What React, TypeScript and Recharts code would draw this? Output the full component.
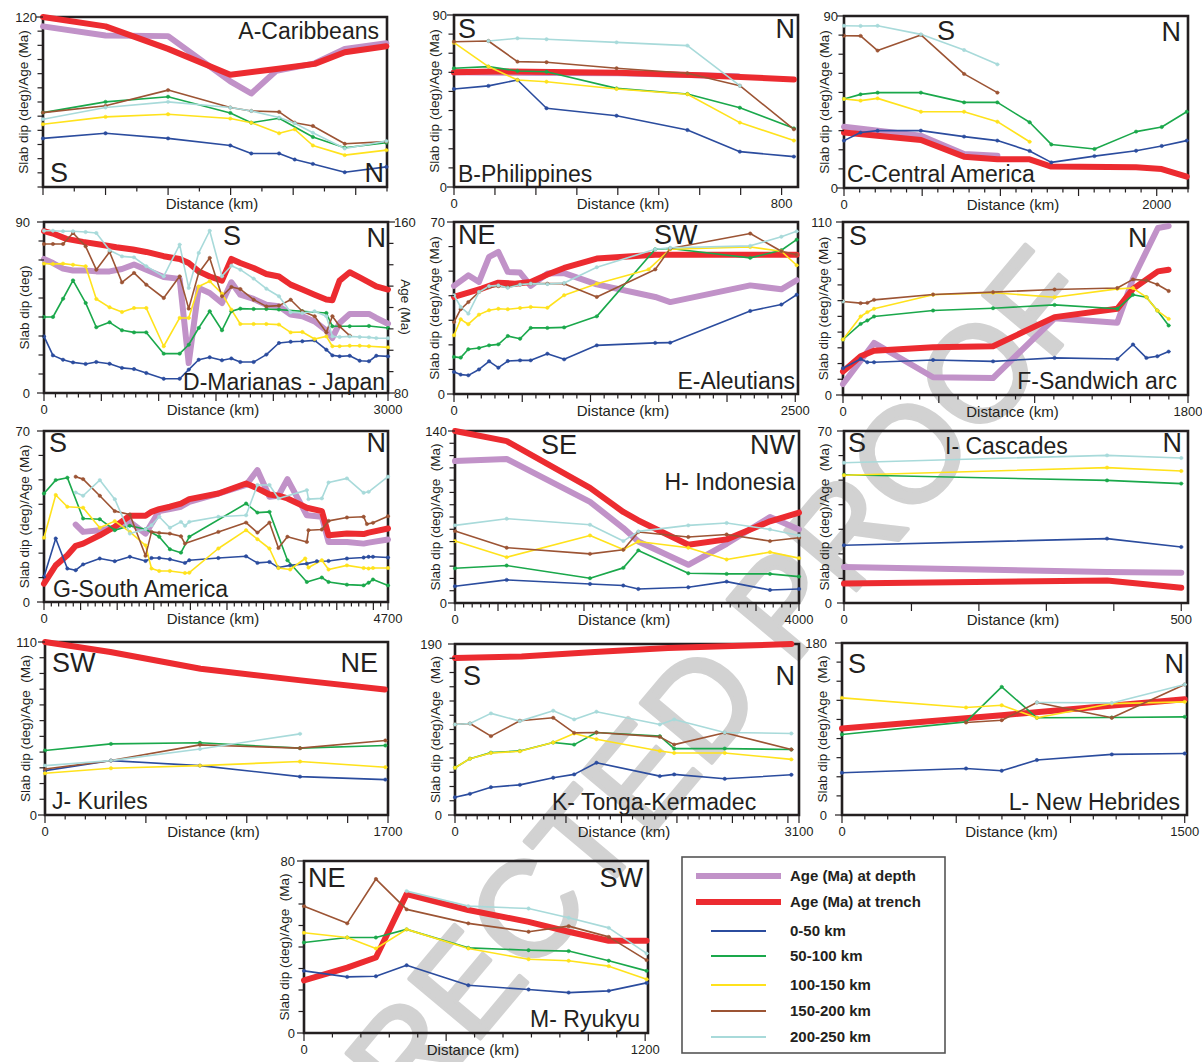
import React from 'react';
import { LineChart, Line, XAxis, YAxis, ReferenceArea } from 'recharts';

type P = [number, number][];

// ---------------- series meta ----------------
const SERIES_KEYS = ['depth', 'trench', 'd0', 'd1', 'd2', 'd3', 'd4'];
const SERIES_NAMES = ['Age (Ma) at depth', 'Age (Ma) at trench', '0-50 km', '50-100 km', '100-150 km', '150-200 km', '200-250 km'];
const SERIES_COLORS = ['#c192c8', '#ec2b30', '#2b4c9e', '#1aa84b', '#ffe21c', '#9c5434', '#a8dada'];
const SERIES_WIDTHS = [6, 6, 1.6, 1.6, 1.6, 1.6, 1.6];

// ---------------- A - Caribbeans ----------------
const A_depth: P = [[0,113.4],[200,107],[400,106.5],[599,74.6],[666,66],[746,82],[869,87.3],[965,97.5],[1098,101.5]];
const A_trench: P = [[0,120],[200,113.4],[400,97.5],[599,79.3],[746,83.3],[869,86.9],[965,95.1],[1098,99.4]];
const A_d0: P = [[0,34.3],[200,37.9],[400,34.3],[599,29.3],[666,23.7],[755,23.7],[805,19.4],[863,16.3],[965,10.4],[1098,14.2]];
const A_d1: P = [[0,52.5],[200,60.1],[400,63.7],[599,52.3],[666,45.4],[755,48.5],[863,35.3],[965,27.7],[1098,31.2]];
const A_d2: P = [[0,44.3],[200,49.5],[400,51.4],[599,48.3],[666,45.4],[755,37.9],[805,40.7],[863,29.3],[965,22.5],[1098,26]];
const A_d3: P = [[0,52.5],[200,57.3],[400,68.4],[599,56.1],[666,53.7],[755,53],[805,45.4],[863,43.1],[965,30.5],[1098,32]];
const A_d4: P = [[0,47.8],[200,56.1],[400,60.1],[599,56.1],[666,53.7],[755,49],[805,45],[863,38.3],[965,27.2],[1098,32.4]];

// ---------------- B - Philippines ----------------
const B_depth: P = [[0,60],[400,59.5],[694,58]];
const B_trench: P = [[0,60],[100,60.5],[400,59.8],[600,58.5],[830,56.3]];
const B_d0: P = [[0,51.3],[84,52.9],[155,56],[226,41.2],[397,37.3],[570,29.8],[698,18.5],[830,15.9]];
const B_d1: P = [[0,62.1],[84,63],[155,60.7],[226,60.3],[397,51.6],[570,48.7],[698,41.5],[830,30.7]];
const B_d2: P = [[0,75.5],[84,63],[155,56],[226,55.1],[397,51.3],[570,48.5],[698,33.7],[830,24.3]];
const B_d3: P = [[0,76],[84,76.4],[155,65.6],[226,65.3],[397,62.1],[570,59.5],[698,53],[830,30.2]];
const B_d4: P = [[84,76.4],[155,77.8],[226,77.3],[397,75.7],[570,74],[698,53]];

// ---------------- C - Central America ----------------
const C_depth: P = [[0,32.1],[492,27.4],[768,17.8],[981,16.9]];
const C_trench: P = [[0,29],[492,25.1],[768,16.4],[981,15],[1187,15],[1326,11.2],[1868,10.8],[2032,9.9],[2192,5.9]];
const C_d0: P = [[0,24.8],[106,29],[215,30],[492,30],[768,26.9],[981,24.8],[1187,19.4],[1326,13.4],[1602,16.7],[1868,19.5],[2032,22],[2192,24.8]];
const C_d1: P = [[0,46.6],[106,49],[215,49.9],[492,49.9],[768,44.8],[981,44.8],[1187,34.4],[1326,22.8],[1602,20.4],[1868,29.5],[2032,31.9],[2192,39.9]];
const C_d2: P = [[0,46.6],[106,45.7],[215,46.9],[492,39.9],[768,39.9],[981,34.7],[1187,24.2]];
const C_d3: P = [[0,79.7],[106,79.6],[215,71.9],[492,80.1],[768,59.7],[981,49.9]];
const C_d4: P = [[0,84.9],[106,84.8],[215,84.9],[492,80.4],[768,72.2],[981,64.7]];

// ---------------- D - Marianas - Japan (ages on right axis) ----------------
const D_depth: P = [[0,142.7],[78,140.8],[166,138.2],[253,137.3],[363,137.3],[456,136.9],[572,136.9],[680,138],[785,140.1],[892,137.7],[1044,134.3],[1183,133.4],[1262,94],[1349,129.1],[1445,126.8],[1552,122.1],[1634,131.8],[1712,126],[1828,124],[1939,121.3],[2049,120.6],[2151,116.7],[2253,115.9],[2360,113.5],[2462,109.3],[2515,105.7],[2578,112.8],[2666,117],[2834,117],[2898,115.1],[3000,112.4]];
const D_trench: P = [[0,155.7],[78,154.6],[195,152.1],[340,150.7],[485,149.5],[631,148.2],[776,147.1],[892,146],[1044,144],[1183,142.7],[1262,140.8],[1349,136.9],[1445,134.5],[1552,132.6],[1634,142.7],[1712,140.8],[1828,138.5],[1939,135.7],[2049,134.5],[2151,130.7],[2253,128.4],[2360,126],[2462,123.7],[2515,123.4],[2578,132.6],[2666,136.5],[2753,134.1],[2834,131.8],[2898,129.9],[3000,128.4]];
const D_d0: P = [[0,29.8],[78,19.8],[166,17.5],[253,16.1],[363,15.3],[456,16.3],[572,15.4],[680,13.2],[785,12.6],[892,10.5],[1044,7.5],[1183,7.5],[1262,12.3],[1349,17.5],[1445,18.8],[1552,17.2],[1634,18.2],[1712,16.3],[1828,16.3],[1939,20.2],[2049,26.3],[2151,27],[2253,27.2],[2360,27.7],[2462,22.8],[2515,19.8],[2578,19.3],[2666,19.6],[2753,17],[2834,16.7],[2898,19.6],[3000,19.3]];
const D_d1: P = [[0,40],[78,40],[166,49.6],[253,59.3],[363,47.4],[456,34.6],[572,37.2],[680,33],[785,31.9],[892,31.9],[1044,20.7],[1183,20.7],[1262,25.4],[1349,34.2],[1445,43],[1552,33],[1634,43],[1712,44.4],[1828,44.2],[1939,44.2],[2049,43.9],[2253,43],[2462,42.1],[2515,35.1],[2666,35.1],[2834,35.3],[3000,34.2]];
const D_d2: P = [[0,68.1],[78,67.9],[166,68.1],[253,67.5],[363,66.7],[456,49.5],[572,45.1],[680,42.6],[785,44.7],[892,44.7],[1044,24.6],[1183,39.5],[1262,39.5],[1349,56.1],[1445,58.8],[1552,52.3],[1634,43.9],[1712,36.3],[1828,36.3],[1939,36.3],[2049,36],[2151,31.9],[2253,32.1],[2360,28.4],[2462,29.8],[2515,24.6],[2578,24.6],[2666,24.9],[2753,24.9],[2834,24.6],[3000,24]];
const D_d3: P = [[0,78.4],[78,78.4],[166,78.4],[253,84.2],[363,77.2],[456,64.9],[572,74.2],[680,58.2],[785,63.2],[892,57],[1044,50],[1183,61.4],[1262,44.4],[1349,63.2],[1445,71.1],[1552,50.9],[1634,55.8],[1712,54.7],[1828,49.1],[1939,45.6],[2049,46],[2151,49.1],[2253,43],[2360,40.4],[2462,31.9],[2515,40.4],[2578,35.1],[2666,30.2]];
const D_d4: P = [[0,85.4],[78,85.4],[166,85.1],[253,85.1],[363,84.7],[456,84.2],[572,75.1],[680,71.9],[785,71.4],[892,66.7],[1044,61.4],[1183,78.1],[1262,55.3],[1349,73.7],[1445,85.4],[1552,61.4],[1634,67],[1712,64.9],[1828,60.2],[1939,54.9],[2049,50.9],[2151,42.5],[2253,42.1],[2360,43],[2462,40.4],[2515,29.8],[2578,29.5],[2666,29.8],[2753,29.5],[2834,29.3],[2898,28.9],[3000,28.8]];

// ---------------- E - Aleutians ----------------
const E_depth: P = [[0,44],[105,48.3],[183,45.6],[257,55.8],[325,57.8],[394,49.7],[484,49.4],[562,44],[684,49],[807,49.2],[1046,44.6],[1474,39.5],[1584,37.4],[2170,44.2],[2398,42.6],[2510,46.3]];
const E_trench: P = [[0,39.5],[203,42.9],[325,45.3],[447,44.9],[562,45.6],[684,48.6],[807,51.3],[1046,55.1],[1474,56.7],[2398,56.7],[2510,56.7]];
const E_d0: P = [[0,9],[49,7.9],[105,7.6],[183,10],[257,13.3],[325,10.7],[394,13.4],[484,13.7],[562,13.7],[684,16.4],[807,14.1],[1046,19.8],[1474,20.8],[1584,20.9],[2170,33.8],[2398,36.4],[2510,40.4]];
const E_d1: P = [[0,15.1],[49,14.8],[105,18.2],[183,18.7],[257,19.8],[325,20.2],[394,23.6],[484,22.5],[562,26.9],[684,26.9],[807,27.1],[1046,31.6],[1474,58.9],[1584,59.2],[2170,55.4],[2398,58.5],[2510,62.8]];
const E_d2: P = [[0,23.9],[49,30.4],[105,28.4],[183,32.3],[257,34.1],[325,34.7],[394,34.5],[484,35],[562,35.4],[684,35.1],[807,40.2],[1046,44.9],[1425,50.7],[1584,58.9],[2170,59.8],[2398,58.1],[2510,52.4]];
const E_d3: P = [[0,29.3],[49,34.5],[105,37.4],[183,41.5],[257,43.5],[325,43.9],[394,43.5],[484,44.5],[562,44.9],[684,44.9],[807,44.9],[1046,39.5],[1474,50.7],[1584,59.2],[2170,65.3],[2398,58.1],[2510,56.7]];
const E_d4: P = [[0,40.2],[49,35.4],[105,32.7],[183,41.5],[257,43.9],[325,44.2],[394,43.2],[484,44.5],[562,44.9],[684,44.7],[807,45.2],[1046,51.6],[1474,58.9],[1584,59.5],[2170,60.3],[2398,64],[2510,66.2]];

// ---------------- F - Sandwich arc ----------------
const F_depth: P = [[0,7],[162,33.1],[470,11.3],[783,10.8],[1104,48.8],[1431,45.9],[1513,73.9],[1643,106.2],[1699,107.5]];
const F_trench: P = [[0,14.9],[92,24.6],[162,28.2],[470,30.4],[783,31],[1104,49.5],[1431,54.8],[1513,67.5],[1643,78.6],[1699,79.6]];
const F_d0: P = [[0,17],[92,22.9],[127,20.8],[162,20.8],[470,22.3],[783,21.4],[1104,23.6],[1431,22.9],[1513,32.1],[1583,23.6],[1640,24.6],[1699,27.6]];
const F_d1: P = [[0,35.3],[92,45.2],[127,47.4],[162,49.9],[470,53.7],[783,55.2],[1104,57.3],[1431,54.8],[1513,63.7],[1583,62.2],[1640,53.7],[1699,44.2]];
const F_d2: P = [[0,35.3],[92,49.9],[127,52.7],[162,54.8],[470,63.7],[783,65],[1104,62.2],[1431,67.5],[1513,68],[1583,62.2],[1640,53.7],[1699,48.4]];
const F_d3: P = [[0,59.5],[92,58.4],[127,58.6],[162,60.5],[470,63.9],[783,65.4],[1104,67.1],[1431,68],[1513,73.5],[1583,72.8],[1640,70.3],[1699,66.1]];
const F_d4: P = [[0,59.5]];

// ---------------- G - South America ----------------
const G_depth: P = [[433,31.7],[534,28.7],[762,29.4],[967,30.4],[1173,32.8],[1387,28],[1574,37.2],[1720,38],[1871,39],[1985,41],[2382,44.4],[2761,47.9],[2916,54],[3080,43.1],[3203,43.5],[3326,50.3],[3591,35.5],[3796,34.9],[3888,24.6],[4139,24.6],[4367,23.9],[4435,24.3],[4700,25.6]];
const G_trench: P = [[0,7.5],[160,15],[319,19.1],[433,23],[534,23.9],[762,27.3],[967,30.8],[1173,35.3],[1387,35.3],[1469,36.9],[1574,38],[1720,39],[1871,40.3],[1985,42.1],[2382,44.4],[2761,48.5],[2916,46.5],[3080,44],[3203,43.5],[3326,42.4],[3591,38.6],[3796,37.2],[3888,27.3],[4139,28],[4367,27.8],[4435,28.4],[4700,30.1]];
const G_d0: P = [[0,10.3],[160,26],[319,13.7],[433,13],[534,15.4],[762,17.8],[967,16.7],[1173,18.5],[1387,16.8],[1469,18],[1574,18],[1720,17.5],[1926,16],[1985,17.1],[2382,18],[2761,18.7],[2916,16],[3080,16.4],[3203,14.1],[3363,15],[3591,15.7],[3728,16.7],[3888,16.8],[4139,17.8],[4367,18.2],[4435,18.5],[4495,18.5],[4700,18.2]];
const G_d1: P = [[0,44.4],[160,49.9],[319,50.9],[534,34.2],[762,33.9],[967,29.4],[1173,31.2],[1387,29.8],[1574,26.7],[1720,21.6],[1871,20.2],[1985,26.7],[2761,40.3],[2916,36.6],[3080,36.9],[3326,17.1],[3591,8.2],[3796,10],[3888,8.2],[4139,7.1],[4367,6.8],[4435,7.9],[4495,9.2],[4700,6.8]];
const G_d2: P = [[0,26.3],[160,43.8],[319,39],[534,38.6],[762,30.4],[967,33.1],[1173,28.7],[1387,23.2],[1469,13.7],[1574,12.7],[1720,12.7],[1926,11.9],[1985,12],[2382,21.9],[2761,29.4],[2916,25.7],[3080,21.9],[3203,13.9],[3363,13.3],[3568,17.8],[3614,14.1],[3796,17.1],[3888,13.3],[4139,15],[4367,13.9],[4435,13.7],[4495,13.9],[4700,13.9]];
const G_d3: P = [[433,51.3],[534,50.3],[762,43.5],[967,37.2],[1173,35.8],[1387,18.9],[1469,28.7],[1574,28.3],[1720,28],[1871,26.9],[1926,23.9],[2382,28.7],[2761,32.5],[2916,28.4],[3080,32.5],[3203,22.1],[3326,26.7],[3591,24.6],[3614,29.4],[3796,29.7],[3888,33.2],[4139,34.6],[4367,34.9],[4412,31.9],[4495,32.4],[4700,35.1]];
const G_d4: P = [[433,44.8],[534,43.5],[762,49.9],[967,42.1],[1173,28],[1387,29.8],[1469,31.4],[1574,34.9],[1720,30.4],[1871,32.8],[1926,31.2],[1985,32.8],[2382,34.9],[2761,35.5],[2916,47.9],[3080,47.9],[3203,42.4],[3591,45.8],[3614,42.1],[3796,42.4],[3888,48.9],[4139,50.6],[4367,44.7],[4435,45.1],[4700,51.3]];

// ---------------- H - Indonesia ----------------
const H_depth: P = [[0,115.5],[601,117.2],[1570,82.3],[1957,61],[2132,50.1],[2713,31.1],[3159,48.2],[3663,70],[4000,59.9]];
const H_trench: P = [[0,140],[601,131.8],[1570,93.7],[1957,74.1],[2132,67.2],[2713,47.4],[3159,51.8],[3663,66.5],[4000,73.6]];
const H_d0: P = [[0,13.6],[601,18.8],[1570,15.5],[1957,14.2],[2132,11.4],[2713,12.8],[3159,17.4],[3663,10.6],[4000,11.4]];
const H_d1: P = [[0,28.3],[601,30.5],[1570,20.2],[1957,28.6],[2132,42.8],[2713,24.2],[3159,23.7],[3663,23.7],[4000,21.5]];
const H_d2: P = [[0,50.4],[601,37.3],[1570,55],[1957,43.6],[2132,50.1],[2713,45],[3159,35.4],[3663,41.4],[4000,36.5]];
const H_d3: P = [[0,58.6],[601,45],[1570,40],[1957,43.3],[2132,57.8],[2713,53.7],[3159,55.8],[3663,50.4],[4000,53.1]];
const H_d4: P = [[0,63.2],[601,68.6],[1570,63.7],[1957,50.4],[2132,58.3],[2713,63.2],[3159,65.1],[3663,59.9],[4000,55]];

// ---------------- I - Cascades ----------------
const I_depth: P = [[0,14.7],[390,12.6],[500,12.3]];
const I_trench: P = [[0,7.9],[390,9.2],[500,6.2]];
const I_d0: P = [[0,23.5],[390,26.2],[500,22.8]];
const I_d1: P = [[0,52.2],[390,49.9],[500,48.6]];
const I_d2: P = [[0,52],[390,55.1],[500,53.7]];
const I_d4: P = [[0,57.1],[390,60.1],[500,59]];

// ---------------- J - Kuriles ----------------
const J_trench: P = [[0,110],[324,103.6],[771,93],[1269,85.6],[1684,79.8]];
const J_d0: P = [[0,28.2],[327,34.6],[768,31.4],[1264,24.4],[1687,22.5]];
const J_d1: P = [[0,41],[327,45.2],[768,45.9],[1264,42.5],[1687,44.2]];
const J_d2: P = [[0,26.5],[327,29.7],[768,31.4],[1264,34],[1687,30.4]];
const J_d3: P = [[0,29.3],[327,34.6],[768,44.6],[1264,42.5],[1687,47.4]];
const J_d4: P = [[0,31.4],[327,34.6],[768,42],[1264,51.6]];

// ---------------- K - Tonga-Kermadec ----------------
const K_trench: P = [[0,174.4],[600,176.2],[1260,181.1],[1921,185.5],[3031,190]];
const K_d0: P = [[0,19.7],[135,23.5],[324,30.9],[585,33.5],[885,41.4],[1074,45.1],[1275,58.1],[1846,43.2],[1975,45.1],[2431,40.2],[3031,44.7]];
const K_d1: P = [[0,52.5],[135,62.6],[324,69.3],[585,71.2],[885,80.5],[1074,78.2],[1275,91.7],[1846,87.6],[1975,73.8],[2431,73.8],[3031,72.7]];
const K_d2: P = [[0,52.5],[135,62.6],[324,68.9],[585,70.8],[885,80.5],[1074,90.6],[1275,84.2],[1846,71.2],[1975,68.9],[2431,68.9],[3031,61.8]];
const K_d3: P = [[0,100.6],[135,101.7],[324,87.6],[585,104.7],[885,108],[1074,91.3],[1275,91.7],[1846,86.8],[1975,78.2],[2431,91.3],[3031,72.7]];
const K_d4: P = [[0,100.6],[135,101.7],[324,112.9],[585,104.3],[885,115.9],[1074,106.2],[1275,114.8],[1846,100.6],[1975,106.2],[2431,91.7],[3031,90.6]];

// ---------------- L - New Hebrides ----------------
const L_trench: P = [[0,90.5],[699,104.5],[1500,121.2]];
const L_d0: P = [[0,44.2],[543,48.7],[699,46.3],[853,57.5],[1181,63.4],[1500,64.4]];
const L_d1: P = [[0,84.3],[543,97.5],[699,134.1],[853,101.7],[1181,102],[1500,102.7]];
const L_d2: P = [[0,122.6],[543,112.5],[699,114.9],[853,101.7],[1181,116.6],[1500,118.4]];
const L_d3: P = [[543,96.8],[699,99.2],[853,117.7],[1181,101.7],[1500,136.5]];
const L_d4: P = [[853,117.7],[1181,117.3],[1500,136.5]];

// ---------------- M - Ryukyu ----------------
const M_trench: P = [[0,24.5],[152,30.4],[253,35.1],[361,64.6],[578,57.2],[790,51.7],[931,47.1],[1072,42.9],[1205,42.9]];
const M_d0: P = [[0,28.9],[152,26.1],[253,26.4],[361,31.5],[578,22.2],[790,20.2],[931,18.8],[1072,19.6],[1205,23.3]];
const M_d1: P = [[0,42.1],[152,44.4],[253,44.4],[361,48.2],[578,39.6],[790,38.5],[931,38.1],[1072,33.6],[1205,28.9]];
const M_d2: P = [[0,46.6],[152,44.4],[253,39.3],[361,48.2],[578,39.3],[790,34.3],[931,33.6],[1072,31.1],[1205,25]];
const M_d3: P = [[0,59],[152,51],[253,71.6],[361,57.5],[578,51],[790,47.1],[931,49.7],[1072,44.7],[1205,33.9]];
const M_d4: P = [[361,66],[578,59],[790,57.9],[931,53.6],[1072,48.9],[1205,37]];

// ---------------- axis tick labels ----------------
const X_LABELS: Record<string, number[]> = {
  A: [], B: [0, 800], C: [0, 2000], D: [0, 3000], E: [0, 2500], F: [0, 1800], G: [0, 4700],
  H: [0, 4000], I: [0, 500], J: [0, 1700], K: [0, 3100], L: [0, 1500], M: [0, 1200],
};
const Y_LABELS: Record<string, number[]> = {
  A: [120], B: [0, 90], C: [0, 90], D: [0, 90], E: [0, 70], F: [0, 110], G: [0, 70],
  H: [0, 140], I: [0, 70], J: [0, 110], K: [0, 190], L: [0, 180], M: [0, 80],
};
const D_RIGHT_LABELS = [80, 160];

// ---------------- layout / styles ----------------
const FONT = '"Liberation Sans", Arial, Helvetica, sans-serif';
const INK = '#231f20';

type Cfg = {
  id: string; l: number; t: number; r: number; b: number;
  xMax: number; xStep: number; xMajor: number; yMax: number; yStep: number; yGap: number;
  data: Record<string, P>; right?: boolean;
  title: string; titleX: number; titleY: number; titleAnchor: 'start' | 'end';
  dirs: [string, number, number, 'start' | 'end'][];
  yLabel: string;
};

const YL1 = 'Slab dip (deg)/Age (Ma)';
const YL2 = 'Slab dip (deg)/Age  (Ma)';

const PANELS: Cfg[] = [
  { id: 'A', l: 43, t: 17, r: 387, b: 187, xMax: 1100, xStep: 100, xMajor: 200, yMax: 120, yStep: 10, yGap: 6,
    data: { depth: A_depth, trench: A_trench, d0: A_d0, d1: A_d1, d2: A_d2, d3: A_d3, d4: A_d4 },
    title: 'A-Caribbeans', titleX: 379, titleY: 39, titleAnchor: 'end',
    dirs: [['S', 50, 182, 'start'], ['N', 384, 182, 'end']], yLabel: YL1 },
  { id: 'B', l: 454, t: 15, r: 798, b: 187, xMax: 840, xStep: 100, xMajor: 100, yMax: 90, yStep: 10, yGap: 7,
    data: { depth: B_depth, trench: B_trench, d0: B_d0, d1: B_d1, d2: B_d2, d3: B_d3, d4: B_d4 },
    title: 'B-Philippines', titleX: 458, titleY: 182, titleAnchor: 'start',
    dirs: [['S', 458, 38, 'start'], ['N', 795, 38, 'end']], yLabel: YL1 },
  { id: 'C', l: 844, t: 16, r: 1188, b: 188, xMax: 2200, xStep: 100, xMajor: 500, yMax: 90, yStep: 10, yGap: 6,
    data: { depth: C_depth, trench: C_trench, d0: C_d0, d1: C_d1, d2: C_d2, d3: C_d3, d4: C_d4 },
    title: 'C-Central America', titleX: 847, titleY: 182, titleAnchor: 'start',
    dirs: [['S', 937, 40, 'start'], ['N', 1181, 41, 'end']], yLabel: YL1 },
  { id: 'D', l: 44, t: 222, r: 388, b: 393, xMax: 3000, xStep: 100, xMajor: 500, yMax: 90, yStep: 10, yGap: 14,
    data: { depth: D_depth, trench: D_trench, d0: D_d0, d1: D_d1, d2: D_d2, d3: D_d3, d4: D_d4 }, right: true,
    title: 'D-Marianas - Japan', titleX: 385, titleY: 390, titleAnchor: 'end',
    dirs: [['S', 223, 245, 'start'], ['N', 386, 247, 'end']], yLabel: 'Slab dip (deg)' },
  { id: 'E', l: 454, t: 222, r: 798, b: 394, xMax: 2520, xStep: 100, xMajor: 500, yMax: 70, yStep: 10, yGap: 9,
    data: { depth: E_depth, trench: E_trench, d0: E_d0, d1: E_d1, d2: E_d2, d3: E_d3, d4: E_d4 },
    title: 'E-Aleutians', titleX: 795, titleY: 389, titleAnchor: 'end',
    dirs: [['NE', 458, 244, 'start'], ['SW', 654, 244, 'start']], yLabel: YL1 },
  { id: 'F', l: 843, t: 222, r: 1188, b: 395, xMax: 1800, xStep: 100, xMajor: 500, yMax: 110, yStep: 10, yGap: 11,
    data: { depth: F_depth, trench: F_trench, d0: F_d0, d1: F_d1, d2: F_d2, d3: F_d3, d4: F_d4 },
    title: 'F-Sandwich arc', titleX: 1177, titleY: 389, titleAnchor: 'end',
    dirs: [['S', 849, 245, 'start'], ['N', 1128, 247, 'start']], yLabel: YL1 },
  { id: 'G', l: 44, t: 431, r: 388, b: 602, xMax: 4700, xStep: 100, xMajor: 500, yMax: 70, yStep: 10, yGap: 14,
    data: { depth: G_depth, trench: G_trench, d0: G_d0, d1: G_d1, d2: G_d2, d3: G_d3, d4: G_d4 },
    title: 'G-South America', titleX: 53, titleY: 597, titleAnchor: 'start',
    dirs: [['S', 49, 452, 'start'], ['N', 386, 452, 'end']], yLabel: YL1 },
  { id: 'H', l: 455, t: 431, r: 799, b: 603, xMax: 4000, xStep: 100, xMajor: 500, yMax: 140, yStep: 10, yGap: 8,
    data: { depth: H_depth, trench: H_trench, d0: H_d0, d1: H_d1, d2: H_d2, d3: H_d3, d4: H_d4 },
    title: 'H- Indonesia', titleX: 795, titleY: 490, titleAnchor: 'end',
    dirs: [['SE', 541, 454, 'start'], ['NW', 795, 454, 'end']], yLabel: YL2 },
  { id: 'I', l: 844, t: 431, r: 1188, b: 603, xMax: 510, xStep: 100, xMajor: 100, yMax: 70, yStep: 10, yGap: 12,
    data: { depth: I_depth, trench: I_trench, d0: I_d0, d1: I_d1, d2: I_d2, d4: I_d4 },
    title: 'I- Cascades', titleX: 945, titleY: 454, titleAnchor: 'start',
    dirs: [['S', 848, 452, 'start'], ['N', 1182, 452, 'end']], yLabel: YL2 },
  { id: 'J', l: 45, t: 642, r: 388, b: 815, xMax: 1700, xStep: 100, xMajor: 500, yMax: 110, yStep: 10, yGap: 8,
    data: { trench: J_trench, d0: J_d0, d1: J_d1, d2: J_d2, d3: J_d3, d4: J_d4 },
    title: 'J- Kuriles', titleX: 52, titleY: 809, titleAnchor: 'start',
    dirs: [['SW', 52, 672, 'start'], ['NE', 378, 672, 'end']], yLabel: YL2 },
  { id: 'K', l: 455, t: 644, r: 799, b: 815, xMax: 3100, xStep: 100, xMajor: 500, yMax: 190, yStep: 190 / 12, yGap: 13,
    data: { trench: K_trench, d0: K_d0, d1: K_d1, d2: K_d2, d3: K_d3, d4: K_d4 },
    title: 'K- Tonga-Kermadec', titleX: 552, titleY: 810, titleAnchor: 'start',
    dirs: [['S', 463, 685, 'start'], ['N', 795, 685, 'end']], yLabel: YL2 },
  { id: 'L', l: 842, t: 643, r: 1187, b: 815, xMax: 1510, xStep: 100, xMajor: 500, yMax: 180, yStep: 20, yGap: 15,
    data: { trench: L_trench, d0: L_d0, d1: L_d1, d2: L_d2, d3: L_d3, d4: L_d4 },
    title: 'L- New Hebrides', titleX: 1180, titleY: 810, titleAnchor: 'end',
    dirs: [['S', 848, 673, 'start'], ['N', 1184, 673, 'end']], yLabel: YL2 },
  { id: 'M', l: 304, t: 861, r: 648, b: 1033, xMax: 1210, xStep: 100, xMajor: 500, yMax: 80, yStep: 10, yGap: 9,
    data: { trench: M_trench, d0: M_d0, d1: M_d1, d2: M_d2, d3: M_d3, d4: M_d4 },
    title: 'M- Ryukyu', titleX: 640, titleY: 1027, titleAnchor: 'end',
    dirs: [['NE', 308, 887, 'start'], ['SW', 643, 887, 'end']], yLabel: YL2 },
];

const stepTicks = (min: number, max: number, step: number) => {
  const n = Math.floor((max - min) / step + 1e-6);
  return Array.from({ length: n + 1 }, (_, i) => +(min + i * step).toFixed(4));
};

const isMult = (v: number, m: number) => Math.abs(v / m - Math.round(v / m)) < 1e-6;

const makeXTick = (labels: number[], major: number) => (p: any) => {
  const v = p.payload.value;
  const big = isMult(v, major) || labels.includes(v);
  return (
    <g>
      <line x1={p.x} x2={p.x} y1={p.y} y2={p.y + (big ? 8 : 4.5)} stroke={INK} strokeWidth={1.2} />
      {labels.includes(v) && (
        <text x={p.x} y={p.y + 21} textAnchor="middle" fontSize={13} fontFamily={FONT} fill={INK}>{v}</text>
      )}
    </g>
  );
};

const makeYTick = (labels: number[], side: 'left' | 'right', gap: number) => (p: any) => {
  const v = p.payload.value;
  const lab = labels.includes(v);
  const s = side === 'left' ? -1 : 1;
  return (
    <g>
      <line x1={p.x} x2={p.x + s * (lab ? 7 : 5.5)} y1={p.y} y2={p.y} stroke={INK} strokeWidth={1.2} />
      {lab && (
        <text x={p.x + s * gap} y={p.y + 4.5} textAnchor={side === 'left' ? 'end' : 'start'} fontSize={13} fontFamily={FONT} fill={INK}>{v}</text>
      )}
    </g>
  );
};

const ML = 45, MT = 8, XH = 30, MR = 30;

function Panel({ cfg }: { cfg: Cfg }) {
  const w = cfg.r - cfg.l + ML + MR;
  const h = cfg.b - cfg.t + MT + XH;
  const xTicks = stepTicks(0, cfg.xMax, cfg.xStep);
  const yTicks = stepTicks(0, cfg.yMax, cfg.yStep);
  return (
    <div style={{ position: 'absolute', left: cfg.l - ML, top: cfg.t - MT }}>
      <LineChart width={w} height={h} margin={{ top: MT, right: cfg.right ? 0 : MR, bottom: 0, left: 0 }}>
        <XAxis type="number" dataKey="x" domain={[0, cfg.xMax]} ticks={xTicks} interval={0}
          tickSize={0} tickMargin={0} tickLine={false} axisLine={false} height={XH}
          tick={makeXTick(X_LABELS[cfg.id], cfg.xMajor)} />
        <YAxis yAxisId="left" type="number" domain={[0, cfg.yMax]} ticks={yTicks} interval={0}
          tickSize={0} tickMargin={0} tickLine={false} axisLine={false} width={ML}
          tick={makeYTick(Y_LABELS[cfg.id], 'left', cfg.yGap)} />
        {cfg.right && (
          <YAxis yAxisId="right" orientation="right" type="number" domain={[80, 160]} ticks={stepTicks(80, 160, 10)}
            interval={0} tickSize={0} tickMargin={0} tickLine={false} axisLine={false} width={MR}
            tick={makeYTick(D_RIGHT_LABELS, 'right', 6)} />
        )}
        {SERIES_KEYS.map((k, i) => {
          const pts = cfg.data[k];
          if (!pts) return null;
          const thick = i < 2;
          return (
            <Line key={k} yAxisId={cfg.right && thick ? 'right' : 'left'}
              data={pts.map(([x, y]) => ({ x, y }))} dataKey="y" type="linear"
              stroke={SERIES_COLORS[i]} strokeWidth={SERIES_WIDTHS[i]} strokeLinejoin="round" strokeLinecap="round"
              dot={thick ? false : { r: 1.7, fill: SERIES_COLORS[i], stroke: SERIES_COLORS[i], strokeWidth: 0.5 }}
              activeDot={false} isAnimationActive={false} />
          );
        })}
        <ReferenceArea yAxisId="left" x1={0} x2={cfg.xMax} y1={0} y2={cfg.yMax}
          fill="none" fillOpacity={0} stroke={INK} strokeWidth={2.6} ifOverflow="visible" />
      </LineChart>
    </div>
  );
}

function Overlay() {
  const legendRows = [876, 902, 931, 956, 985, 1011, 1037];
  return (
    <svg width={1202} height={1062} style={{ position: 'absolute', left: 0, top: 0, pointerEvents: 'none' }}>
      {PANELS.map((c) => {
        const cy = (c.t + c.b) / 2;
        const lx = c.l - 20;
        return (
          <g key={c.id} fontFamily={FONT} fill={INK}>
            <text x={c.titleX} y={c.titleY} fontSize={23} textAnchor={c.titleAnchor}>{c.title}</text>
            {c.dirs.map(([s, x, y, a], j) => (
              <text key={j} x={x} y={y} fontSize={27} textAnchor={a}>{s}</text>
            ))}
            <text transform={`translate(${lx},${cy}) rotate(-90)`} textAnchor="middle" dominantBaseline="central"
              fontSize={13.5} style={{ whiteSpace: 'pre' }}>{c.yLabel}</text>
            <text x={(c.l + c.r) / 2 - 3} y={c.b + 22} textAnchor="middle" fontSize={15}>Distance (km)</text>
          </g>
        );
      })}
      <text transform="translate(405,307) rotate(90)" textAnchor="middle" dominantBaseline="central"
        fontSize={13.5} fontFamily={FONT} fill={INK}>Age (Ma)</text>
      <rect x={682} y={857} width={263} height={196} fill="none" stroke="#555" strokeWidth={1.6} />
      {SERIES_NAMES.map((n, i) => (
        <g key={n}>
          <line x1={i < 2 ? 696 : 711} x2={i < 2 ? 781 : 766} y1={legendRows[i]} y2={legendRows[i]}
            stroke={SERIES_COLORS[i]} strokeWidth={i < 2 ? 6 : 2} />
          <text x={790} y={legendRows[i] + 5} fontSize={15} fontWeight={700} fontFamily={FONT} fill={INK}>{n}</text>
        </g>
      ))}
    </svg>
  );
}

function Watermark() {
  return (
    <svg width={1202} height={1062} style={{ position: 'absolute', left: 0, top: 0 }}>
      <text transform="translate(1100,300) rotate(-50)" textAnchor="end" fontSize={135}
        fontFamily={FONT} fill="#d2d2d2" stroke="#d2d2d2" strokeWidth={4} strokeLinejoin="round">UNCORRECTED PROOF</text>
    </svg>
  );
}

export default function App() {
  return (
    <div style={{ position: 'absolute', left: 0, top: 0, width: 1202, height: 1062, background: '#fff', overflow: 'hidden' }}>
      <Watermark />
      {PANELS.map((c) => <Panel key={c.id} cfg={c} />)}
      <Overlay />
    </div>
  );
}
